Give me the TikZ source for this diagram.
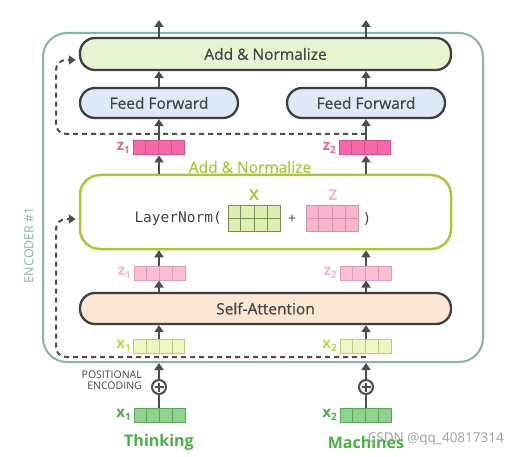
\documentclass[tikz,border=0pt]{standalone}
\usepackage{fontspec}
\setmainfont{Open Sans}
\setmonofont{DejaVu Sans Mono}
\newfontfamily\semib{Open Sans}[FakeBold=0.6]
\usetikzlibrary{arrows.meta,calc}
\definecolor{encc}{HTML}{8AB3A3}
\definecolor{boxd}{HTML}{3F3F3F}
\definecolor{arrc}{HTML}{4D4D4D}
\definecolor{addfill}{HTML}{E7F3D1}
\definecolor{fffill}{HTML}{DEEAF8}
\definecolor{safill}{HTML}{FCE7D5}
\definecolor{lngreen}{HTML}{A8C83A}
\definecolor{hotpink}{HTML}{F26AA9}
\definecolor{hotpinkd}{HTML}{D9508F}
\definecolor{hotpinkt}{HTML}{E8619F}
\definecolor{ltpink}{HTML}{F9BDD6}
\definecolor{ltpinkd}{HTML}{E49BBA}
\definecolor{ltpinkt}{HTML}{F4B5CC}
\definecolor{ltyel}{HTML}{EEF6C2}
\definecolor{ltyeld}{HTML}{B9CE6E}
\definecolor{ltyelt}{HTML}{C6D44A}
\definecolor{grn}{HTML}{8FD18F}
\definecolor{grnd}{HTML}{5BA95B}
\definecolor{grnt}{HTML}{4DAF4A}
\definecolor{xmat}{HTML}{DCEEB0}
\definecolor{xmatd}{HTML}{7E8B5A}
\definecolor{zmat}{HTML}{F8B5CD}
\definecolor{zmatd}{HTML}{D992AE}
\definecolor{txt}{HTML}{444444}
\newcommand{\vecrow}[5]{%
  \node[vecbox, fill=#4, draw=#5] (#1) at (#2,#3) {};
  \foreach \f in {0.25,0.5,0.75}
    \draw[#5, line width=1pt] ($(#1.north west)!\f!(#1.north east)$) -- ($(#1.south west)!\f!(#1.south east)$);
}
\newcommand{\matgrid}[5]{%
  \node[matbox, fill=#4, draw=#5] (#1) at (#2,#3) {};
  \foreach \f in {0.25,0.5,0.75}
    \draw[#5, line width=1pt] ($(#1.north west)!\f!(#1.north east)$) -- ($(#1.south west)!\f!(#1.south east)$);
  \draw[#5, line width=1pt] (#1.west) -- (#1.east);
}
\newcommand{\sub}[1]{\raisebox{-2.5pt}{\fontsize{10}{11}\selectfont\bfseries #1}}
\begin{document}
\begin{tikzpicture}[x=1pt,y=-1pt,
  bigbox/.style={draw=boxd, line width=2.3pt, rounded corners=15pt, inner sep=0pt,
    font=\semib\fontsize{15.5}{18}\selectfont, text=txt},
  vecbox/.style={rectangle, minimum width=51pt, minimum height=14pt, inner sep=0pt, line width=1pt},
  matbox/.style={rectangle, minimum width=52pt, minimum height=26pt, inner sep=0pt, line width=1pt},
  arr/.style={draw=arrc, line width=2pt, -{Triangle[length=7pt,width=9pt]}},
  resid/.style={draw=arrc, line width=2pt, dash pattern=on 5pt off 4pt, rounded corners=10pt,
    -{Triangle[length=7pt,width=9pt]}, shorten >=3pt},
  vlab/.style={anchor=east, font=\fontsize{15}{17}\selectfont\bfseries, inner sep=0pt},
  word/.style={font=\fontsize{16}{18}\selectfont\bfseries, text=grnt}
]
\useasboundingbox (0,0) rectangle (519,457);
\fill[white] (0,0) rectangle (519,457);

% encoder frame
\node[draw=encc, line width=2pt, rounded corners=24pt, minimum width=440pt, minimum height=329pt, inner sep=0pt] (enc) at (263,197.5) {};
\node[rotate=90, text=encc, font=\fontsize{12.5}{14}\selectfont] (enclab) at (29,245) {ENCODER \#1};

% main boxes
\node[bigbox, fill=addfill, minimum width=371pt, minimum height=32pt] (addtop) at (265.5,54) {Add \& Normalize};
\node[bigbox, fill=fffill, minimum width=158pt, minimum height=30pt] (ff1) at (159,103) {Feed Forward};
\node[bigbox, fill=fffill, minimum width=158pt, minimum height=30pt] (ff2) at (366,103) {Feed Forward};
\node[draw=lngreen, line width=2.5pt, rounded corners=20pt, fill=white, minimum width=371pt, minimum height=74pt, inner sep=0pt] (ln) at (265.5,212) {};
\node[bigbox, fill=safill, minimum width=371pt, minimum height=31pt] (sa) at (265.5,308.5) {Self-Attention};
\node[text=lngreen, font=\semib\fontsize{15.5}{18}\selectfont] (lnlab) at (250,167) {Add \& Normalize};

% LayerNorm content
\node[text=txt, font=\ttfamily\fontsize{14.5}{17}\selectfont, anchor=east, inner sep=0pt] (lnt) at (222,219) {LayerNorm(};
\matgrid{xm}{254}{218}{xmat}{xmatd}
\node[text=txt, font=\fontsize{14}{17}\selectfont] (plust) at (292,219) {+};
\matgrid{zm}{332}{218}{zmat}{zmatd}
\node[text=txt, font=\ttfamily\fontsize{14.5}{17}\selectfont] (rpar) at (367,219) {)};
\node[text=lngreen, font=\fontsize{15}{16}\selectfont\bfseries] (xl) at (254,195) {X};
\node[text=ltpinkt, font=\fontsize{15}{16}\selectfont\bfseries] (zl) at (333,195) {Z};

% vectors
\vecrow{zA1}{158.5}{148}{hotpink}{hotpinkd}
\vecrow{zA2}{364.5}{148}{hotpink}{hotpinkd}
\vecrow{zB1}{159.5}{273}{ltpink}{ltpinkd}
\vecrow{zB2}{365.5}{273}{ltpink}{ltpinkd}
\vecrow{xA1}{159}{346.5}{ltyel}{ltyeld}
\vecrow{xA2}{365.5}{346.5}{ltyel}{ltyeld}
\vecrow{xC1}{159.5}{415}{grn}{grnd}
\vecrow{xC2}{365.5}{415}{grn}{grnd}

% vector labels
\node[vlab, text=hotpinkt] (lzA1) at (130,148) {z\sub{1}};
\node[vlab, text=hotpinkt] (lzA2) at (336,148) {z\sub{2}};
\node[vlab, text=ltpinkt] (lzB1) at (131,273) {z\sub{1}};
\node[vlab, text=ltpinkt] (lzB2) at (337,273) {z\sub{2}};
\node[vlab, text=ltyelt] (lxA1) at (131,346) {x\sub{1}};
\node[vlab, text=ltyelt] (lxA2) at (337,346) {x\sub{2}};
\node[vlab, text=grnt] (lxC1) at (131,415) {x\sub{1}};
\node[vlab, text=grnt] (lxC2) at (337,415) {x\sub{2}};

% positional encoding
\node[draw=arrc, line width=2pt, circle, minimum size=14pt, inner sep=0pt, fill=white,
  path picture={\draw[arrc, line width=2pt] ($(path picture bounding box.center)+(-4.5,0)$) -- +(9,0)
    ($(path picture bounding box.center)+(0,-4.5)$) -- +(0,9);}] (pe1) at (159,387) {};
\node[draw=arrc, line width=2pt, circle, minimum size=14pt, inner sep=0pt, fill=white,
  path picture={\draw[arrc, line width=2pt] ($(path picture bounding box.center)+(-4.5,0)$) -- +(9,0)
    ($(path picture bounding box.center)+(0,-4.5)$) -- +(0,9);}] (pe2) at (366,387) {};
\node[anchor=east, align=right, text=txt, font=\fontsize{10.5}{11.5}\selectfont, inner sep=0pt] (pelab) at (142,380) {POSITIONAL\\ENCODING};

% words
\node[word] (w1) at (159,442) {Thinking};
\node[word] (w2) at (366,442) {Machines};
\node[text=gray!75, font=\fontsize{13.5}{15}\selectfont, anchor=east, inner sep=0pt] (wm) at (504,439) {CSDN @qq\_40817314};

% connectors
\coordinate (out1) at (159,20);
\coordinate (out2) at (366,20);
\draw[arr] (addtop.north -| ff1) -- (out1);
\draw[arr] (addtop.north -| ff2) -- (out2);
\draw[arr] (ff1.north) -- (ff1.north |- addtop.south);
\draw[arr] (ff2.north) -- (ff2.north |- addtop.south);
\draw[arr] (zA1.north -| ff1) -- (ff1.south);
\draw[arr] (zA2.north -| ff2) -- (ff2.south);
\draw[arr] (ln.north -| ff1) -- (zA1.south -| ff1);
\draw[arr] (ln.north -| ff2) -- (zA2.south -| ff2);
\draw[arr] (zB1.north -| ff1) -- (ln.south -| ff1);
\draw[arr] (zB2.north -| ff2) -- (ln.south -| ff2);
\draw[arr] (sa.north -| ff1) -- (zB1.south -| ff1);
\draw[arr] (sa.north -| ff2) -- (zB2.south -| ff2);
\draw[arr] (xA1.north -| ff1) -- (sa.south -| ff1);
\draw[arr] (xA2.north -| ff2) -- (sa.south -| ff2);
\draw[arr] (pe1.north) -- (pe1.north |- enc.south);
\draw[arr] (pe2.north) -- (pe2.north |- enc.south);
\draw[arrc, line width=2pt] (xC1.north -| pe1) -- (pe1.south);
\draw[arrc, line width=2pt] (xC2.north -| pe2) -- (pe2.south);

% residual connections
\coordinate (r1s) at (366,357);
\coordinate (r2s) at (366,134);
\draw[resid] (r1s) -- (56,357) -- (56,219) -- ($(ln.west)+(0,7)$);
\draw[resid] (r2s) -- (56,134) -- (56,60) -- ($(addtop.west)+(0,6)$);
\end{tikzpicture}
\end{document}
